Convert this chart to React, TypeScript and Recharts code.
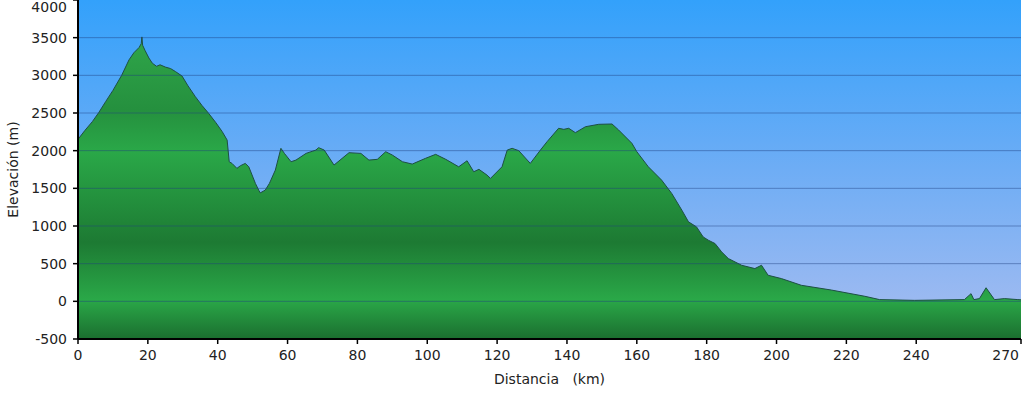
import { Area, AreaChart, CartesianGrid, ReferenceLine, XAxis, YAxis } from "recharts"

const km = [
  0, 2, 4.1, 6, 7.9, 10, 12.5, 14.6, 16, 17.5, 18.1, 18.3, 18.5, 19.2, 20.3, 21.3, 22.5, 23.5, 25, 26.5,
  27.9, 29.8, 31.5, 33.6, 35.5, 37.4, 39.5, 41.3, 42.7, 43.3, 44.1, 45.5, 46.5, 47.9, 48.9, 50.8, 51.8, 52.2,
  53.6, 54.8, 56.5, 58.1, 59.1, 61, 62.4, 65.3, 68.1, 68.9, 70.5, 73.3, 77.6, 81, 83.3, 85.7, 88.1, 90, 92.9,
  95.7, 99.5, 102.4, 105.3, 109, 111.4, 113.3, 114.8, 117.1, 118.1, 121.4, 122.9, 124.3, 126.2, 129.5, 132.4,
  134.3, 137.6, 139.1, 140.5, 142.4, 145.3, 149.1, 152.9, 154.8, 158.6, 160, 163.3, 167.1, 170, 172.9, 174.8,
  177.1, 179, 180.5, 182.4, 184.3, 186.2, 190, 193.8, 195.7, 197.6, 201.4, 207.1, 215.7, 225.3, 229.5, 239.5,
  253.8, 255.7, 256.5, 258.1, 260, 262.4, 265.3, 269.1, 270,
]

const elevation = [
  2150, 2270, 2385, 2510, 2650, 2800, 3000, 3205, 3300, 3370, 3420, 3510, 3400, 3330, 3230, 3160, 3120, 3140, 3110, 3090,
  3050, 2990, 2860, 2717, 2600, 2496, 2370, 2252, 2141, 1853, 1831, 1765, 1800, 1831, 1786, 1565, 1470, 1440,
  1476, 1565, 1742, 2031, 1964, 1853, 1875, 1964, 2008, 2040, 2008, 1809, 1973, 1964, 1875, 1885, 1986, 1942, 1853,
  1822, 1898, 1951, 1885, 1786, 1866, 1720, 1752, 1676, 1632, 1786, 2008, 2031, 2000, 1831, 2008,
  2119, 2297, 2283, 2297, 2239, 2318, 2350, 2354, 2274, 2097, 1986, 1786, 1609, 1432, 1210, 1055,
  988, 855, 811, 767, 656, 568, 479, 435, 479, 346, 302, 213, 150, 67, 23, 13,
  23, 102, 23, 36, 180, 23, 36, 23, 20,
]

const xTicks = [0, 20, 40, 60, 80, 100, 120, 140, 160, 180, 200, 220, 240, 270]
const yTicks = [-500, 0, 500, 1000, 1500, 2000, 2500, 3000, 3500, 4000]

const data = km.map((d, i) => ({ km: d, elev: elevation[i] }))

const FONT = "'DejaVu Sans', Verdana, sans-serif"
const TEXT = "#222222"

function XTick({ x, y, payload }: any) {
  // last label sits flush against the right edge
  const last = payload.value === 270
  return (
    <text x={last ? x - 2 : x} y={y} dy="0.71em" textAnchor={last ? "end" : "middle"} fontSize={14} fontFamily={FONT} fill={TEXT}>
      {payload.value}
    </text>
  )
}

function YTick({ x, y, payload }: any) {
  const top = payload.value === 4000
  return (
    <text x={x} y={top ? y + 7 : y} dy="0.355em" textAnchor="end" fontSize={14} fontFamily={FONT} fill={TEXT}>
      {payload.value}
    </text>
  )
}

function YLabel({ viewBox }: any) {
  const cx = viewBox.x + 13
  const cy = viewBox.y + viewBox.height / 2
  return (
    <text
      x={cx}
      y={cy}
      transform={`rotate(-90 ${cx} ${cy})`}
      textAnchor="middle"
      dominantBaseline="central"
      fontSize={14}
      fontFamily={FONT}
      fill={TEXT}
    >
      Elevación (m)
    </text>
  )
}

export default function App() {
  return (
    <div style={{ position: "absolute", left: 0, top: 0, width: 1024, height: 394, background: "#fff" }}>
      <AreaChart width={1024} height={394} data={data} margin={{ top: 0, right: 3, bottom: 0, left: 0 }}>
        <defs>
          <linearGradient id="sky" x1="0" y1="0" x2="0" y2="1">
            <stop offset="0%" stopColor="#33a1fb" />
            <stop offset="50%" stopColor="#6eadf5" />
            <stop offset="100%" stopColor="#a8bdf0" />
          </linearGradient>
          <linearGradient id="ground" x1="0" y1="0" x2="0" y2="1">
            <stop offset="0%" stopColor="#2fa64a" />
            <stop offset="24%" stopColor="#25903e" />
            <stop offset="38%" stopColor="#2aa848" />
            <stop offset="68%" stopColor="#1d7a33" />
            <stop offset="87%" stopColor="#2aa848" />
            <stop offset="100%" stopColor="#1b6e2f" />
          </linearGradient>
        </defs>
        <CartesianGrid horizontal={false} vertical={false} fill="url(#sky)" fillOpacity={1} />
        <XAxis
          dataKey="km"
          type="number"
          domain={[0, 270]}
          ticks={xTicks}
          height={55}
          tickSize={5}
          tickMargin={6}
          interval={0}
          axisLine={{ stroke: "#000", strokeWidth: 2 }}
          tickLine={{ stroke: "#000", strokeWidth: 1.5 }}
          tick={<XTick />}
          label={{
            value: "Distancia\u00a0\u00a0\u00a0(km)",
            position: "insideBottom",
            offset: 10,
            fontSize: 14,
            fontFamily: FONT,
            fill: TEXT,
          }}
        />
        <YAxis
          type="number"
          domain={[-500, 4000]}
          ticks={yTicks}
          width={78}
          tickSize={5}
          tickMargin={6}
          interval={0}
          axisLine={{ stroke: "#000", strokeWidth: 2 }}
          tickLine={{ stroke: "#000", strokeWidth: 1.5 }}
          tick={<YTick />}
          label={{ content: <YLabel /> }}
        />
        <Area
          type="linear"
          dataKey="elev"
          baseValue="dataMin"
          stroke="#1e4f45"
          strokeWidth={1}
          fill="url(#ground)"
          fillOpacity={1}
          isAnimationActive={false}
        />
        {yTicks.slice(1, -1).map((v) => (
          <ReferenceLine key={v} y={v} stroke="#1f3f80" strokeOpacity={0.45} strokeWidth={1} />
        ))}
      </AreaChart>
    </div>
  )
}
